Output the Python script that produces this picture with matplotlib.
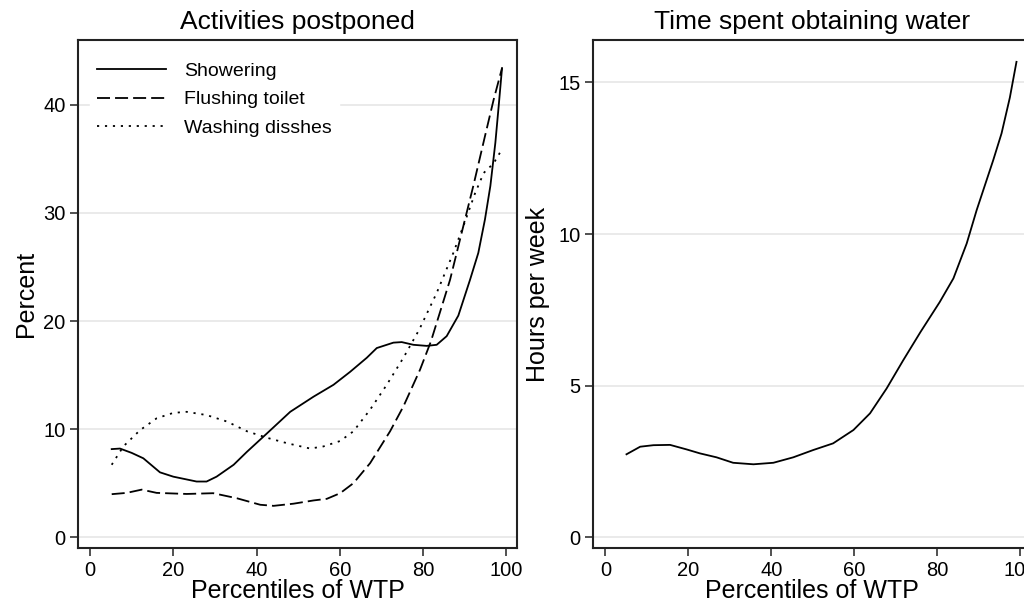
import numpy as np
import matplotlib
matplotlib.use("Agg")
import matplotlib.pyplot as plt

plt.rcParams['font.family'] = ['Liberation Sans', 'DejaVu Sans']

# values (percentile of WTP, value)
shower_x = [5.2, 7.2, 10.0, 12.8, 16.8, 20.0, 25.6, 28.0, 30.4, 34.5, 37.7, 42.5, 48.1, 53.7, 58.5,
            62.5, 66.5, 68.9, 72.9, 74.9, 77.7, 80.9, 83.3, 85.7, 88.5, 91.3, 93.3, 94.9,
            96.2, 97.4, 98.2, 99.0]
shower_y = [8.15, 8.2, 7.8, 7.3, 6.0, 5.6, 5.15, 5.15, 5.6, 6.7, 7.9, 9.6, 11.6, 13.0, 14.1,
            15.3, 16.6, 17.5, 18.0, 18.05, 17.8, 17.7, 17.8, 18.6, 20.5, 23.8, 26.3, 29.4,
            32.5, 36.5, 39.9, 43.4]

toilet_x = [5.2, 8.8, 12.4, 16.0, 23.2, 29.6, 35.3, 40.9, 44.1, 48.9, 53.7, 56.9, 60.1,
            63.3, 67.3, 72.1, 75.3, 79.3, 81.9, 86.5, 90.1, 92.1, 94.9, 97.0, 99.0]
toilet_y = [3.98, 4.1, 4.4, 4.1, 4.0, 4.07, 3.6, 3.0, 2.9, 3.1, 3.4, 3.55, 4.07,
            5.0, 6.85, 9.8, 12.1, 15.5, 18.1, 23.8, 29.4, 32.5, 37.1, 40.5, 43.4]

dishes_x = [5.2, 8.0, 12.0, 16.0, 20.0, 23.2, 28.0, 32.9, 37.7, 42.5, 47.3, 52.9, 56.1,
            60.1, 63.3, 67.3, 71.3, 75.3, 79.1, 83.3, 87.3, 90.1, 92.5, 94.6, 97.0, 99.0]
dishes_y = [6.7, 8.4, 9.9, 11.0, 11.5, 11.6, 11.3, 10.7, 9.8, 9.2, 8.7, 8.2, 8.4,
            8.9, 9.8, 11.8, 14.1, 16.6, 19.2, 22.6, 26.3, 29.2, 31.8, 33.7, 34.6, 35.9]

water_x = [5.1, 8.4, 11.6, 15.6, 19.6, 22.8, 26.8, 30.8, 35.7, 40.5, 45.3, 50.1, 54.9,
           59.8, 63.8, 67.8, 71.8, 76.0, 80.6, 83.9, 87.1, 89.5, 91.9, 93.5, 95.5, 97.5, 99.1]
water_y = [2.74, 2.99, 3.04, 3.05, 2.9, 2.77, 2.64, 2.46, 2.41, 2.46, 2.64, 2.88, 3.1,
           3.54, 4.09, 4.91, 5.84, 6.78, 7.76, 8.54, 9.69, 10.79, 11.78, 12.44, 13.32, 14.5, 15.68]

fig = plt.figure(figsize=(10.24, 6.04), dpi=100)
ax1 = fig.add_axes([78 / 1024, 56 / 604, 439 / 1024, 508 / 604])
ax2 = fig.add_axes([593.3 / 1024, 56 / 604, 437.7 / 1024, 508 / 604])


def style(ax, yticks):
    ax.set_xlim(-2.9, 102.6)
    ax.set_xticks([0, 20, 40, 60, 80, 100])
    ax.set_yticks(yticks)
    ax.grid(axis='y', color='#e8e8e8', lw=1.3, zorder=0)
    ax.set_axisbelow(True)
    for s in ax.spines.values():
        s.set_color('#222222')
        s.set_linewidth(1.5)
    ax.tick_params(direction='out', length=6, width=1.1, color='#222222',
                   labelsize=14.5, pad=3)
    ax.set_xlabel('Percentiles of WTP', fontsize=18, labelpad=0)


ax1.plot(shower_x, shower_y, color='black', lw=1.3, label='Showering')
ax1.plot(toilet_x, toilet_y, color='black', lw=1.3, dashes=(7.2, 2.8), label='Flushing toilet')
ax1.plot(dishes_x, dishes_y, color='black', lw=1.3, dashes=(1.2, 3.2), label='Washing disshes')
style(ax1, [0, 10, 20, 30, 40])
ax1.set_ylim(-1.0, 46.0)
ax1.set_ylabel('Percent', fontsize=18, labelpad=4)
ax1.set_title('Activities postponed', fontsize=19, pad=8)
leg = ax1.legend(loc='upper left', bbox_to_anchor=(0.027, 0.969), frameon=True,
                 fontsize=14, handlelength=3.55, handletextpad=0.95, labelspacing=0.55,
                 borderpad=0.35, borderaxespad=0.0, fancybox=False)
leg.get_frame().set_edgecolor('white')
leg.get_frame().set_facecolor('white')
leg.get_frame().set_alpha(1.0)

ax2.plot(water_x, water_y, color='black', lw=1.3)
style(ax2, [0, 5, 10, 15])
ax2.set_ylim(-0.35, 16.4)
ax2.set_ylabel('Hours per week', fontsize=18, labelpad=6)
ax2.set_title('Time spent obtaining water', fontsize=19, pad=8)

fig.savefig('out.png', dpi=100, facecolor='white')
